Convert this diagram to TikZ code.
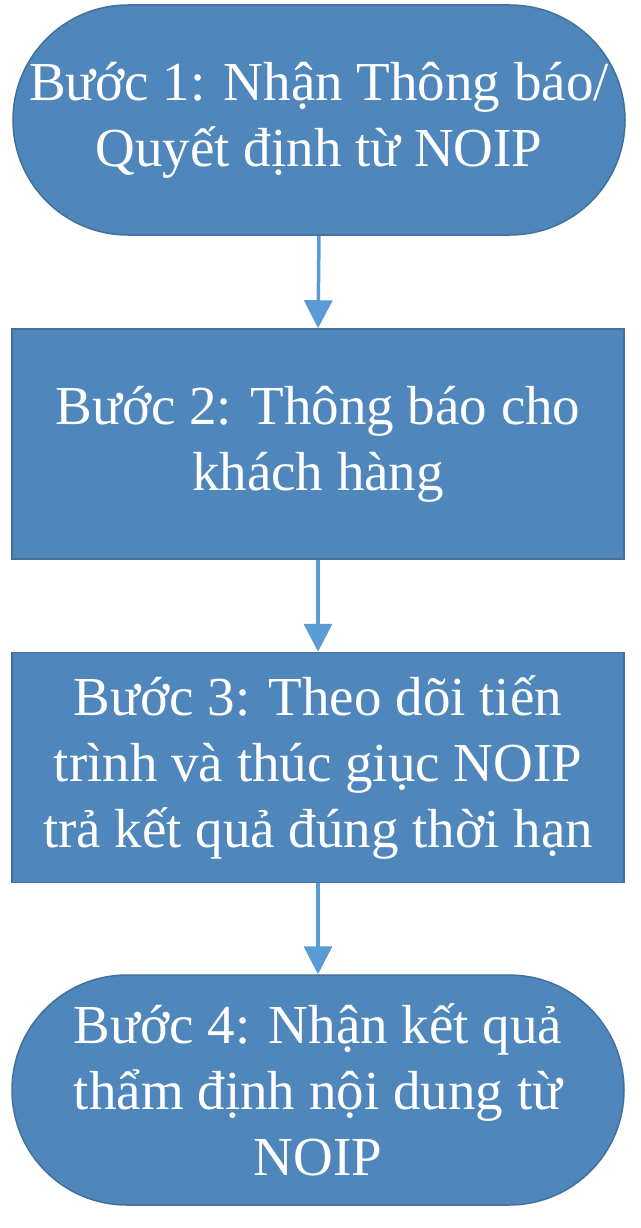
\documentclass[tikz,border=0pt]{standalone}
\usepackage{fontspec}
\setmainfont{Liberation Serif}
\usetikzlibrary{shapes.misc,arrows.meta}
\definecolor{boxfill}{HTML}{4F87BC}
\definecolor{boxline}{HTML}{41719C}
\definecolor{arrowc}{HTML}{5B9BD5}
\tikzset{
  basebox/.style={draw=boxline, fill=boxfill, line width=1.5pt, text=white,
    minimum width=612pt, minimum height=230pt, align=center, inner sep=0pt,
    font=\fontsize{55}{66}\selectfont},
  stadium/.style={basebox, rounded rectangle},
  rectbox/.style={basebox, rectangle},
  flowarrow/.style={draw=arrowc, line width=3.5pt,
    -{Triangle[width=28pt,length=28pt]}}
}
\begin{document}
\begin{tikzpicture}[x=1pt,y=1pt]
\useasboundingbox (0,0) rectangle (640,-1228);
\node[stadium] (s1) at (319,-120) {Bước 1: Nhận Thông báo/\\Quyết định từ NOIP};
\node[rectbox] (s2) at (318,-444) {Bước 2: Thông báo cho\\khách hàng};
\node[rectbox] (s3) at (318,-767.5) {Bước 3: Theo dõi tiến\\trình và thúc giục NOIP\\trả kết quả đúng thời hạn};
\node[stadium] (s4) at (318,-1090) {Bước 4: Nhận kết quả\\thẩm định nội dung từ\\NOIP};
\draw[flowarrow] (s1.south) -- (s2.north);
\draw[flowarrow] (s2.south) -- (s3.north);
\draw[flowarrow] (s3.south) -- (s4.north);
\end{tikzpicture}
\end{document}
